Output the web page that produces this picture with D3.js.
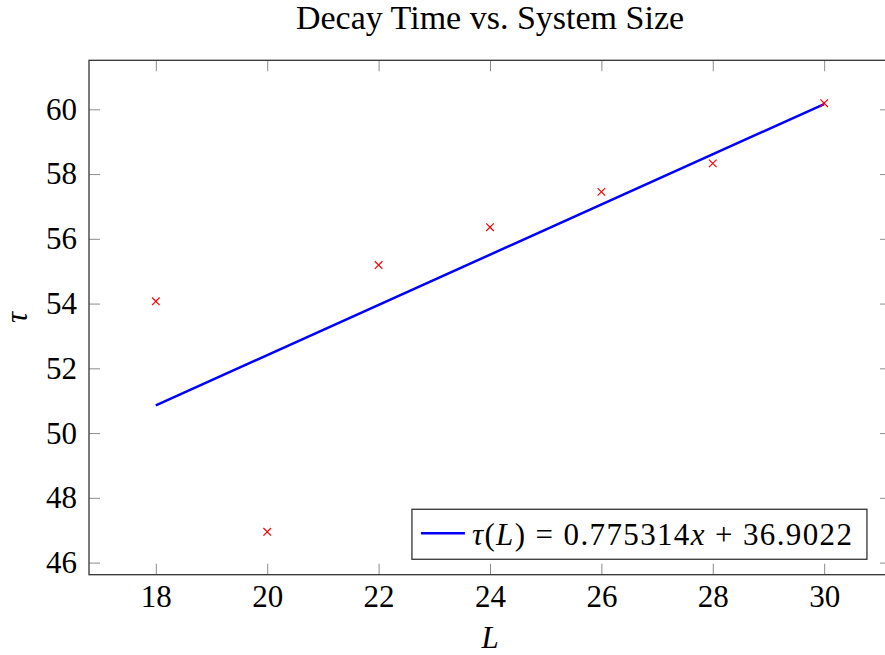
<!DOCTYPE html>
<html>
<head>
<meta charset="utf-8">
<script src="https://cdn.jsdelivr.net/npm/d3@7"></script>
<style>
  body { margin: 0; background: #fff; }
  svg { display: block; }
  svg text { font-family: "Liberation Serif", "Times New Roman", serif !important; }
</style>
</head>
<body>
<svg id="chart" width="885" height="655"></svg>
<script>
// data
const sizes = [18, 20, 22, 24, 26, 28, 30];
const decayTimes = [54.07, 46.95, 55.19, 56.36, 57.45, 58.33, 60.19];
const fitSizes = [18, 30];
const fitTimes = [50.858, 60.162];
const xTicks = [18, 20, 22, 24, 26, 28, 30];
const yTicks = [46, 48, 50, 52, 54, 56, 58, 60];
const legendLabel = ["τ", "(", "L", ") = 0.775314", "x", " + 36.9022"];

const svg = d3.select('#chart');
const margin = {top: 60.3, right: -6, bottom: 80.3, left: 89};
const width = 885, height = 655;

// pgfplots style: enlarge limits by 10% of data range
const xExt = d3.extent(sizes);
const yExt = d3.extent(decayTimes);
const xPad = (xExt[1] - xExt[0]) * 0.1;
const yPad = (yExt[1] - yExt[0]) * 0.1;

const x = d3.scaleLinear()
    .domain([xExt[0] - xPad, xExt[1] + xPad])
    .range([margin.left, width - margin.right]);
const y = d3.scaleLinear()
    .domain([yExt[0] - yPad, yExt[1] + yPad])
    .range([height - margin.bottom, margin.top]);

const x0 = x.range()[0], x1 = x.range()[1];
const y0 = y.range()[1], y1 = y.range()[0];

// ticks (inward, on all four sides)
const tickLen = 11;
function styleAxis(g) {
    g.select('.domain').remove();
    g.attr('font-family', null);
    g.selectAll('.tick line').attr('stroke', '#8c8c8c').attr('stroke-width', 1);
    g.selectAll('.tick text').attr('fill', '#000').attr('font-size', 31);
}
svg.append('g').attr('transform', `translate(0,${y1})`)
    .call(d3.axisBottom(x).tickValues(xTicks).tickSize(-tickLen).tickPadding(10))
    .call(styleAxis);
svg.append('g').attr('transform', `translate(0,${y0})`)
    .call(d3.axisTop(x).tickValues(xTicks).tickSize(-tickLen).tickFormat(''))
    .call(styleAxis);
svg.append('g').attr('transform', `translate(${x0},0)`)
    .call(d3.axisLeft(y).tickValues(yTicks).tickSize(-tickLen).tickPadding(12))
    .call(styleAxis);
svg.append('g').attr('transform', `translate(${x1},0)`)
    .call(d3.axisRight(y).tickValues(yTicks).tickSize(-tickLen).tickFormat(''))
    .call(styleAxis);

// frame
svg.append('rect')
    .attr('x', x0).attr('y', y0)
    .attr('width', x1 - x0).attr('height', y1 - y0)
    .attr('fill', 'none').attr('stroke', '#333').attr('stroke-width', 1.3);

// fit line
const line = d3.line().x(d => x(d[0])).y(d => y(d[1]));
svg.append('path')
    .datum(fitSizes.map((s, i) => [s, fitTimes[i]]))
    .attr('d', line)
    .attr('fill', 'none').attr('stroke', '#0000ff').attr('stroke-width', 2.5);

// x marks
const m = 3.8;
svg.append('g').selectAll('path')
    .data(sizes.map((s, i) => [s, decayTimes[i]]))
    .join('path')
    .attr('d', d => {
        const cx = x(d[0]), cy = y(d[1]);
        return `M${cx - m},${cy - m}L${cx + m},${cy + m}M${cx - m},${cy + m}L${cx + m},${cy - m}`;
    })
    .attr('stroke', '#ff0000').attr('stroke-width', 1.2).attr('fill', 'none');

// title
svg.append('text')
    .attr('x', (x0 + x1) / 2).attr('y', 28.5)
    .attr('text-anchor', 'middle').attr('font-size', 34)
    .text('Decay Time vs. System Size');

// axis labels
svg.append('text')
    .attr('x', (x0 + x1) / 2).attr('y', 648)
    .attr('text-anchor', 'middle').attr('font-size', 31).attr('font-style', 'italic')
    .text('L');
svg.append('text')
    .attr('transform', `translate(27,${(y0 + y1) / 2}) rotate(-90)`)
    .attr('text-anchor', 'middle').attr('font-size', 31).attr('font-style', 'italic')
    .text('τ');

// legend, anchored south east at (0.97, 0.03)
const legW = 455, legH = 50;
const legX = x1 - 0.03 * (x1 - x0) - legW;
const legY = y1 - 0.03 * (y1 - y0) - legH;
const leg = svg.append('g').attr('transform', `translate(${legX},${legY})`);
leg.append('rect')
    .attr('width', legW).attr('height', legH)
    .attr('fill', '#fff').attr('stroke', '#333').attr('stroke-width', 1.3);
leg.append('line')
    .attr('x1', 9).attr('x2', 53).attr('y1', 24).attr('y2', 24)
    .attr('stroke', '#0000ff').attr('stroke-width', 2.5);
const lt = leg.append('text')
    .attr('x', 60).attr('y', 36)
    .attr('font-size', 31)
    .attr('textLength', 380).attr('lengthAdjust', 'spacing');
lt.selectAll('tspan')
    .data(legendLabel)
    .join('tspan')
    .attr('font-style', (d, i) => (i % 2 === 0 ? 'italic' : 'normal'))
    .text(d => d);
</script>
</body>
</html>
